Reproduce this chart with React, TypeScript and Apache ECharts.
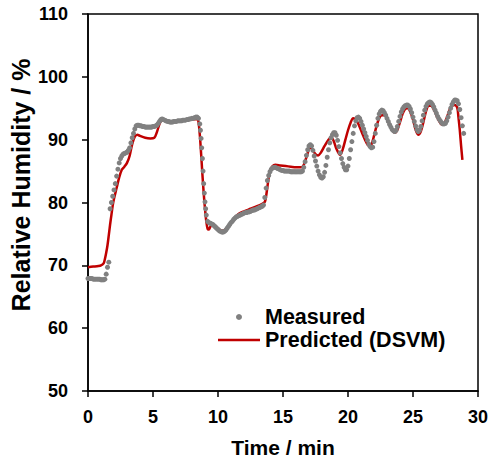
import React, { useEffect, useRef } from "react";
import * as echarts from "echarts";

// Measured relative humidity (%), sampled every 0.1 min from t = 0.0 to 28.9 min
const measuredRH: number[] = [
  67.9, 67.9, 67.9, 67.9, 67.8, 67.8, 67.8, 67.8, 67.8, 67.8,
  67.7, 67.7, 67.7, 67.8, 68.6, 69.7, 70.5, 79.0, 80.0, 81.0,
  82.0, 83.0, 84.2, 85.3, 86.3, 87.0, 87.4, 87.7, 87.8, 87.9,
  88.0, 88.3, 88.7, 89.5, 90.3, 91.0, 91.7, 92.2, 92.3, 92.3,
  92.2, 92.2, 92.1, 92.1, 92.0, 92.0, 92.0, 92.0, 92.0, 92.0,
  92.1, 92.1, 92.2, 92.3, 92.6, 92.9, 93.2, 93.3, 93.2, 93.1,
  93.0, 92.9, 92.9, 92.8, 92.8, 92.8, 92.9, 92.9, 92.9, 93.0,
  93.0, 93.0, 93.0, 93.1, 93.1, 93.1, 93.2, 93.2, 93.3, 93.3,
  93.4, 93.4, 93.5, 93.6, 93.6, 93.4, 92.5, 90.2, 87.0, 83.0,
  80.1, 78.0, 77.0, 76.8, 76.7, 76.6, 76.5, 76.3, 76.1, 75.9,
  75.7, 75.5, 75.4, 75.3, 75.3, 75.4, 75.6, 75.9, 76.2, 76.5,
  76.8, 77.0, 77.3, 77.5, 77.7, 77.8, 77.9, 78.0, 78.1, 78.2,
  78.3, 78.4, 78.4, 78.5, 78.5, 78.6, 78.7, 78.8, 78.8, 78.9,
  79.0, 79.1, 79.2, 79.3, 79.4, 79.6, 80.8, 82.3, 83.5, 84.3,
  84.9, 85.3, 85.5, 85.6, 85.6, 85.5, 85.4, 85.3, 85.2, 85.1,
  85.1, 85.0, 85.0, 85.0, 85.0, 85.0, 84.9, 84.9, 84.9, 84.9,
  84.9, 84.9, 84.9, 84.9, 84.9, 85.0, 85.6, 86.5, 87.5, 88.4,
  89.0, 89.2, 89.0, 88.3, 87.4, 86.6, 85.8, 85.0, 84.4, 84.0,
  83.9, 84.1, 84.8, 85.9, 87.2, 88.4, 89.5, 90.3, 90.8, 91.1,
  91.1, 90.7, 89.9, 88.9, 87.9, 87.0, 86.2, 85.6, 85.2, 85.2,
  85.8, 87.0, 88.4, 89.7, 91.0, 92.2, 93.0, 93.5, 93.6, 93.4,
  92.9, 92.3, 91.7, 91.1, 90.5, 89.9, 89.3, 88.9, 88.7, 88.8,
  89.7, 91.0, 92.3, 93.4, 94.1, 94.5, 94.7, 94.6, 94.3, 93.9,
  93.4, 92.9, 92.4, 92.0, 91.6, 91.4, 91.3, 91.5, 92.1, 92.9,
  93.7, 94.4, 94.9, 95.2, 95.4, 95.5, 95.5, 95.3, 94.9, 94.3,
  93.6, 92.9, 92.2, 91.6, 91.3, 91.5, 92.1, 93.0, 93.9, 94.7,
  95.3, 95.7, 95.9, 96.0, 95.9, 95.6, 95.2, 94.7, 94.2, 93.7,
  93.3, 93.0, 92.7, 92.5, 92.5, 92.6, 93.0, 93.6, 94.3, 95.0,
  95.6, 96.0, 96.3, 96.3, 96.2, 95.7, 94.8, 93.5, 92.2, 91.0,
];
const measuredStep = 0.1;

// Extra measured samples during the fast drop (time min, RH %)
const measuredDropTime: number[] = [8.65, 8.75, 8.85, 8.95, 9.05];
const measuredDropRH: number[] = [91.5, 88.7, 85.0, 81.5, 79.0];

// Predicted (DSVM) curve
const predictedTime: number[] = [
  0.0, 0.4, 0.8, 1.0, 1.2, 1.3, 1.4, 1.5, 1.6, 1.7, 1.8, 1.9, 2.0, 2.2, 2.4, 2.6, 2.8,
  3.0, 3.2, 3.4, 3.6, 3.8, 4.0, 4.4, 4.8, 5.1, 5.3, 5.5, 5.7, 5.9, 6.4, 7.0, 7.6, 8.0,
  8.4, 8.5, 8.6, 8.7, 8.8, 8.9, 9.0, 9.1, 9.2, 9.3, 9.4, 9.6, 9.8, 10.0, 10.3, 10.5,
  10.8, 11.2, 11.6, 12.0, 12.5, 13.0, 13.4, 13.6, 13.7, 13.8, 13.9, 14.0, 14.2, 14.4,
  14.8, 15.2, 15.6, 16.0, 16.4, 16.6, 16.8, 17.0, 17.1, 17.3, 17.5, 17.7, 17.9, 18.2,
  18.5, 18.7, 18.9, 19.1, 19.3, 19.4, 19.6, 19.8, 20.0, 20.2, 20.4, 20.6, 20.8, 21.0,
  21.2, 21.4, 21.6, 21.8, 22.0, 22.2, 22.4, 22.6, 22.8, 23.0, 23.2, 23.4, 23.6, 23.8,
  24.0, 24.2, 24.4, 24.6, 24.8, 25.0, 25.2, 25.4, 25.6, 25.8, 26.0, 26.2, 26.4, 26.6,
  26.8, 27.0, 27.2, 27.4, 27.6, 27.8, 28.0, 28.2, 28.4, 28.5, 28.6, 28.7, 28.8,
];
const predictedRH: number[] = [
  69.7, 69.8, 69.9, 70.0, 70.3, 71.0, 72.0, 73.2, 74.8, 76.5, 78.0, 79.5, 80.6, 82.3, 84.0, 85.2, 85.7,
  86.3, 87.4, 89.3, 90.5, 90.8, 90.6, 90.3, 90.2, 90.3, 91.2, 92.5, 93.1, 93.0, 92.8, 92.9, 93.1, 93.2,
  93.3, 92.8, 90.8, 87.8, 84.5, 81.5, 79.0, 77.0, 75.8, 75.7, 76.1, 76.5, 76.3, 75.9, 75.5, 75.6,
  76.2, 77.4, 78.2, 78.6, 79.0, 79.4, 79.8, 80.1, 81.0, 82.5, 84.0, 85.1, 85.8, 86.0,
  85.9, 85.8, 85.7, 85.6, 85.6, 86.0, 87.2, 88.5, 88.8, 88.3, 87.7, 87.5, 87.9, 89.0,
  90.0, 90.4, 89.8, 88.6, 87.8, 87.6, 88.5, 90.0, 91.5, 92.7, 93.4, 93.2, 92.5, 91.5,
  90.5, 89.6, 89.0, 89.2, 90.6, 92.2, 93.4, 93.9, 93.9, 93.3, 92.4, 91.5, 91.1, 91.6,
  92.8, 94.1, 94.9, 95.0, 94.4, 93.2, 91.6, 90.8, 91.3, 92.8, 94.5, 95.4, 95.4, 94.8,
  93.9, 93.0, 92.4, 92.6, 93.5, 94.7, 95.4, 95.5, 95.1, 93.5, 91.5, 89.0, 86.8,
];

const xTicks = { min: 0, max: 30, interval: 5 };
const yTicks = { min: 50, max: 110, interval: 10 };

const FONT = "'Liberation Sans', Arial, sans-serif";

export default function App() {
  const ref = useRef<HTMLDivElement>(null);

  useEffect(() => {
    if (!ref.current) return;
    const chart = echarts.init(ref.current, undefined, { renderer: "svg" });

    const measured: [number, number][] = measuredRH.map((v, i) => [
      +(i * measuredStep).toFixed(2),
      v,
    ]);
    measuredDropTime.forEach((t, i) => measured.push([t, measuredDropRH[i]]));
    const predicted: [number, number][] = predictedTime.map((t, i) => [t, predictedRH[i]]);

    chart.setOption({
      animation: false,
      backgroundColor: "#ffffff",
      textStyle: { fontFamily: FONT },
      grid: {
        left: 88,
        right: 15,
        top: 14,
        bottom: 67,
        show: true,
        borderColor: "#000",
        borderWidth: 1.5,
        backgroundColor: "transparent",
        containLabel: false,
        outerBoundsMode: "none",
      },
      legend: {
        orient: "vertical",
        left: 218,
        top: 306,
        padding: 0,
        itemWidth: 42,
        itemHeight: 6,
        itemGap: 1,
        textStyle: { fontFamily: FONT, fontWeight: "bold", fontSize: 21.5, color: "#000" },
        data: [
          { name: "Measured", icon: "circle", itemStyle: { color: "#808080" } },
          {
            name: "Predicted (DSVM)",
            icon: "path://M0,0 L42,0 L42,2.5 L0,2.5 Z",
            itemStyle: { color: "#C00000" },
          },
        ],
      },
      xAxis: {
        type: "value",
        min: xTicks.min,
        max: xTicks.max,
        interval: xTicks.interval,
        name: "Time / min",
        nameLocation: "middle",
        nameGap: 46,
        nameTextStyle: {
          fontFamily: FONT,
          fontWeight: "bold",
          fontSize: 21,
          color: "#000",
          verticalAlign: "top",
        },
        axisLine: { show: true, lineStyle: { color: "#000", width: 1.5 } },
        axisTick: { show: true, inside: false, length: 6, lineStyle: { color: "#000", width: 1.5 } },
        axisLabel: { fontFamily: FONT, fontWeight: "bold", fontSize: 18, color: "#000", margin: 17 },
        splitLine: { show: false },
      },
      yAxis: {
        type: "value",
        min: yTicks.min,
        max: yTicks.max,
        interval: yTicks.interval,
        axisLine: { show: true, lineStyle: { color: "#000", width: 1.5 } },
        axisTick: { show: true, inside: false, length: 6, lineStyle: { color: "#000", width: 1.5 } },
        axisLabel: { fontFamily: FONT, fontWeight: "bold", fontSize: 18, color: "#000", margin: 20 },
        splitLine: { show: false },
      },
      graphic: [
        {
          type: "text",
          x: 21,
          y: 185,
          rotation: Math.PI / 2,
          style: {
            text: "Relative Humidity / %",
            fontFamily: FONT,
            fontWeight: "bold",
            fontSize: 25,
            fill: "#000",
            align: "center",
            verticalAlign: "middle",
          },
        },
      ],
      series: [
        {
          name: "Predicted (DSVM)",
          type: "line",
          data: predicted,
          symbol: "none",
          smooth: 0.3,
          lineStyle: { color: "#C00000", width: 2.5 },
          itemStyle: { color: "#C00000" },
          z: 2,
        },
        {
          name: "Measured",
          type: "scatter",
          data: measured,
          symbol: "circle",
          symbolSize: 5,
          itemStyle: { color: "#808080", opacity: 1 },
          z: 3,
        },
      ],
    });

    return () => chart.dispose();
  }, []);

  return (
    <div
      ref={ref}
      style={{ position: "fixed", left: 0, top: 0, width: 493, height: 458 }}
    />
  );
}
